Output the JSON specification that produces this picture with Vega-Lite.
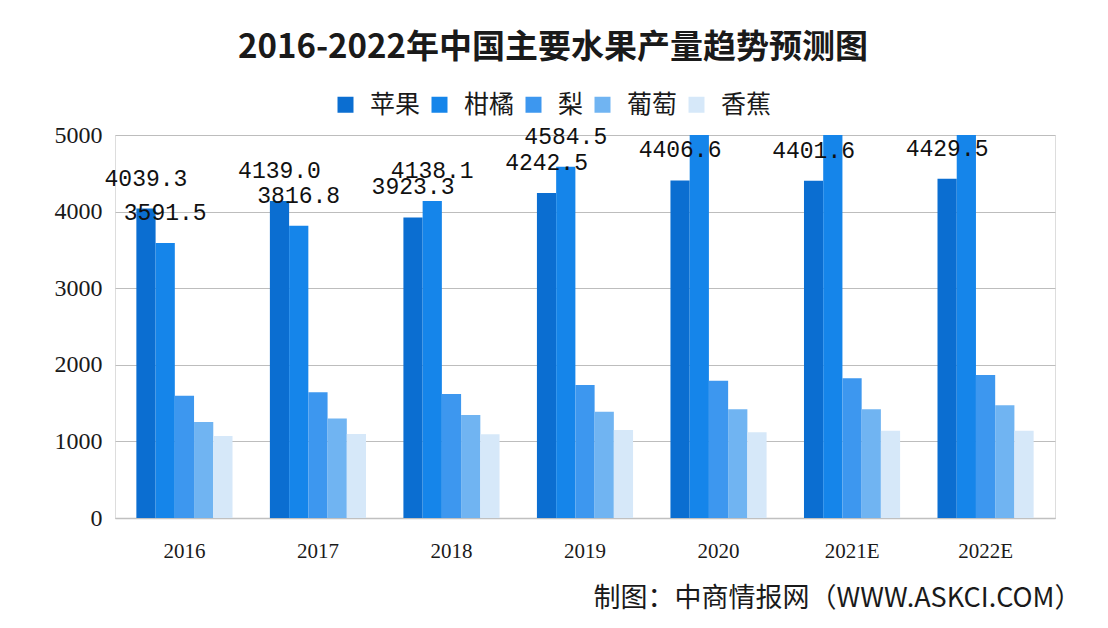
{
  "$schema": "https://vega.github.io/schema/vega-lite/v6.json",
  "autosize": {"type": "none"},
  "width": 940,
  "height": 383,
  "padding": {"left": 115, "top": 135, "right": 53, "bottom": 110},
  "background": "white",
  "title": {
    "text": "2016-2022年中国主要水果产量趋势预测图",
    "font": "Noto Sans CJK SC",
    "fontSize": 33,
    "fontWeight": "bold",
    "color": "#1a1a1a",
    "anchor": "middle",
    "dx": -32,
    "baseline": "bottom",
    "offset": -6
  },
  "data": {
    "values": [
      {"year": "2016", "fruit": "苹果", "value": 4039.3},
      {"year": "2016", "fruit": "柑橘", "value": 3591.5},
      {"year": "2016", "fruit": "梨", "value": 1596},
      {"year": "2016", "fruit": "葡萄", "value": 1252},
      {"year": "2016", "fruit": "香蕉", "value": 1070},
      {"year": "2017", "fruit": "苹果", "value": 4139.0},
      {"year": "2017", "fruit": "柑橘", "value": 3816.8},
      {"year": "2017", "fruit": "梨", "value": 1641},
      {"year": "2017", "fruit": "葡萄", "value": 1300},
      {"year": "2017", "fruit": "香蕉", "value": 1097},
      {"year": "2018", "fruit": "苹果", "value": 3923.3},
      {"year": "2018", "fruit": "柑橘", "value": 4138.1},
      {"year": "2018", "fruit": "梨", "value": 1619},
      {"year": "2018", "fruit": "葡萄", "value": 1345},
      {"year": "2018", "fruit": "香蕉", "value": 1093},
      {"year": "2019", "fruit": "苹果", "value": 4242.5},
      {"year": "2019", "fruit": "柑橘", "value": 4584.5},
      {"year": "2019", "fruit": "梨", "value": 1736},
      {"year": "2019", "fruit": "葡萄", "value": 1388},
      {"year": "2019", "fruit": "香蕉", "value": 1150},
      {"year": "2020", "fruit": "苹果", "value": 4406.6},
      {"year": "2020", "fruit": "柑橘", "value": 5121.9},
      {"year": "2020", "fruit": "梨", "value": 1793},
      {"year": "2020", "fruit": "葡萄", "value": 1419},
      {"year": "2020", "fruit": "香蕉", "value": 1119},
      {"year": "2021E", "fruit": "苹果", "value": 4401.6},
      {"year": "2021E", "fruit": "柑橘", "value": 5260},
      {"year": "2021E", "fruit": "梨", "value": 1824},
      {"year": "2021E", "fruit": "葡萄", "value": 1419},
      {"year": "2021E", "fruit": "香蕉", "value": 1140},
      {"year": "2022E", "fruit": "苹果", "value": 4429.5},
      {"year": "2022E", "fruit": "柑橘", "value": 5400},
      {"year": "2022E", "fruit": "梨", "value": 1867},
      {"year": "2022E", "fruit": "葡萄", "value": 1471},
      {"year": "2022E", "fruit": "香蕉", "value": 1140}
    ]
  },
  "encoding": {
    "x": {
      "field": "year",
      "type": "nominal",
      "sort": null,
      "scale": {"paddingInner": 0.28, "paddingOuter": 0.16},
      "axis": {
        "title": "制图：中商情报网（WWW.ASKCI.COM）",
        "titleFont": "Noto Sans CJK SC",
        "titleFontSize": 27,
        "titleFontWeight": "normal",
        "titleColor": "#1a1a1a",
        "titleAnchor": null,
        "titleAlign": "right",
        "titleBaseline": "middle",
        "titleX": 966,
        "titleY": 80,
        "labelAngle": 0,
        "labelFont": "Liberation Serif",
        "labelFontSize": 21,
        "labelColor": "#1a1a1a",
        "labelPadding": 22,
        "ticks": false,
        "domainColor": "#c0c0c0",
        "domainWidth": 1.5
      }
    },
    "xOffset": {"field": "fruit", "type": "nominal", "sort": ["苹果", "柑橘", "梨", "葡萄", "香蕉"]},
    "y": {
      "field": "value",
      "type": "quantitative",
      "scale": {"domain": [0, 5000], "nice": false},
      "axis": {
        "title": null,
        "values": [0, 1000, 2000, 3000, 4000, 5000],
        "format": "d",
        "labelFont": "Liberation Serif",
        "labelFontSize": 24,
        "labelColor": "#1a1a1a",
        "labelPadding": 13,
        "ticks": false,
        "domain": false,
        "gridColor": "#bdbdbd",
        "gridWidth": 1.2
      }
    }
  },
  "layer": [
    {
      "mark": {"type": "bar", "clip": true},
      "encoding": {
        "color": {
          "field": "fruit",
          "type": "nominal",
          "sort": ["苹果", "柑橘", "梨", "葡萄", "香蕉"],
          "scale": {
            "domain": ["苹果", "柑橘", "梨", "葡萄", "香蕉"],
            "range": ["#0b6ed1", "#1585ea", "#3d97ef", "#70b4f2", "#d6e8f9"]
          },
          "legend": {
            "title": null,
            "orient": "none",
            "direction": "horizontal",
            "legendX": 218,
            "legendY": -43,
            "padding": 0,
            "symbolType": "square",
            "symbolSize": 256,
            "symbolStrokeWidth": 0,
            "symbolOpacity": 1,
            "labelFont": "Noto Sans CJK SC",
            "labelFontSize": 25,
            "labelColor": "#1a1a1a",
            "labelOffset": 12,
            "columnPadding": 6
          }
        }
      }
    },
    {
      "transform": [
        {"filter": "(datum.fruit === '苹果' || datum.fruit === '柑橘') && datum.value <= 5000"}
      ],
      "mark": {
        "type": "text",
        "font": "Liberation Mono",
        "fontSize": 23,
        "color": "#111111",
        "baseline": "alphabetic",
        "dy": -23
      },
      "encoding": {
        "text": {"field": "value", "type": "quantitative", "format": ".1f"}
      }
    }
  ]
}
